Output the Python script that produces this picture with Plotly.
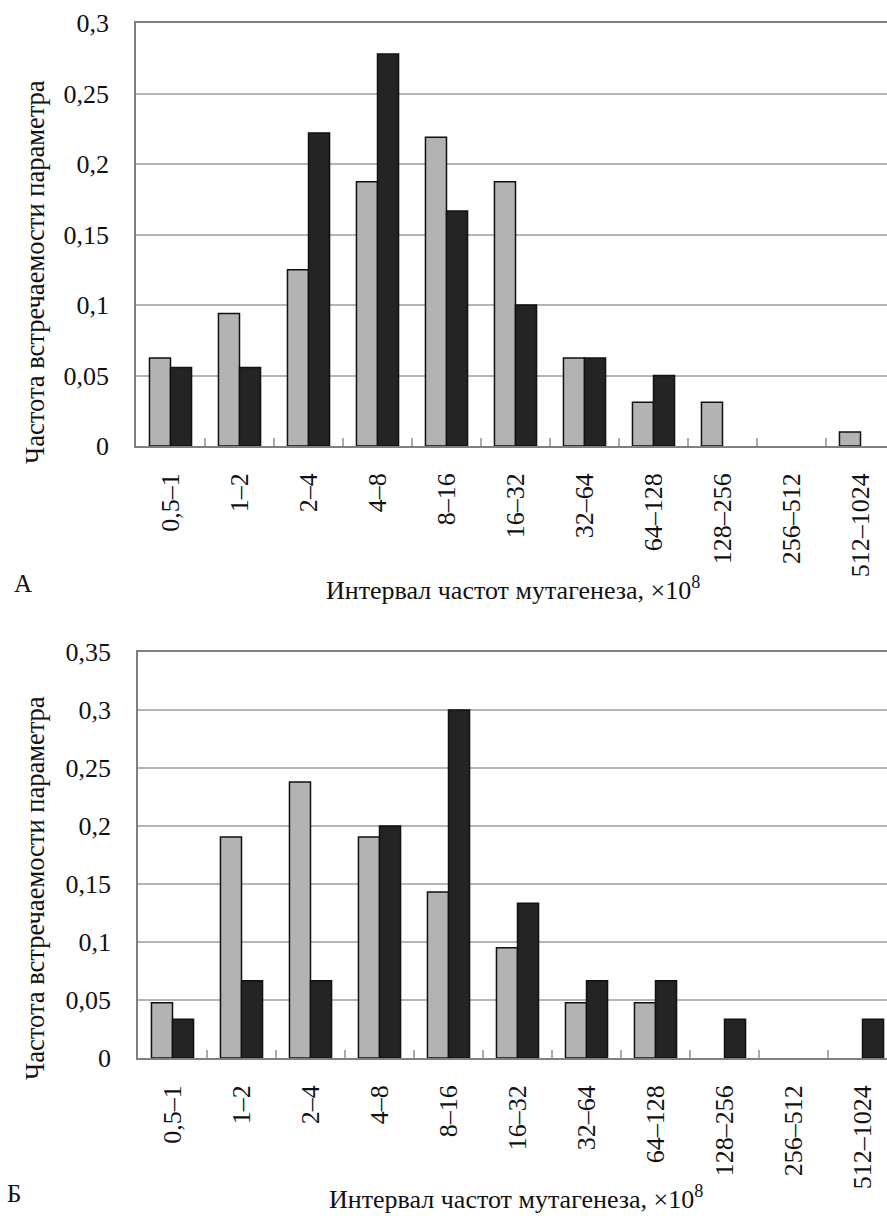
import plotly.graph_objects as go

# Mutagenesis frequency intervals (×10^8)
categories = ["0,5–1", "1–2", "2–4", "4–8", "8–16", "16–32",
              "32–64", "64–128", "128–256", "256–512", "512–1024"]

# Panel А: frequency of occurrence
a_gray = [0.0625, 0.094, 0.125, 0.1875, 0.219, 0.1875, 0.0625, 0.031, 0.031, 0.0, 0.01]
a_black = [0.0556, 0.0556, 0.222, 0.278, 0.1667, 0.1, 0.0625, 0.05, 0.0, 0.0, 0.0]

# Panel Б: frequency of occurrence
b_gray = [0.0476, 0.1905, 0.238, 0.1905, 0.143, 0.095, 0.0476, 0.0476, 0.0, 0.0, 0.0]
b_black = [0.0333, 0.0667, 0.0667, 0.2, 0.3, 0.1333, 0.0667, 0.0667, 0.0333, 0.0, 0.0333]

y_ticks_a = [0, 0.05, 0.1, 0.15, 0.2, 0.25, 0.3]
y_ticks_b = [0, 0.05, 0.1, 0.15, 0.2, 0.25, 0.3, 0.35]

W, H = 887, 1216
FONT = "'Liberation Serif', 'Times New Roman', serif"
GRAY = "#b3b3b3"
BLACK = "#242424"
GRID = "#b5b5b5"
AXIS = "#808080"


def py(v):
    """Convert a pixel row (from the top) to paper coordinates."""
    return 1 - v / H


def outline(values):
    # empty bins get no outline so nothing is drawn for them
    return [1.5 if v > 0 else 0 for v in values]


fig = go.Figure()

for gray, black, xa, ya in [(a_gray, a_black, "x", "y"), (b_gray, b_black, "x2", "y2")]:
    fig.add_trace(go.Bar(x=categories, y=gray, xaxis=xa, yaxis=ya,
                         marker=dict(color=GRAY, line=dict(color="#111", width=outline(gray))),
                         showlegend=False))
    fig.add_trace(go.Bar(x=categories, y=black, xaxis=xa, yaxis=ya,
                         marker=dict(color=BLACK, line=dict(color="#111", width=outline(black))),
                         showlegend=False))

xaxis_common = dict(
    type="category", tickangle=-90, tickson="boundaries", ticks="inside",
    ticklen=8, tickcolor="#aaaaaa", tickwidth=1.5, showgrid=False,
    showline=True, linecolor=AXIS, linewidth=1.5, mirror=True,
    tickfont=dict(family=FONT, size=26, color="#111"), ticklabelstandoff=15,
    fixedrange=True, automargin=False,
)
yaxis_common = dict(
    showgrid=True, gridcolor=GRID, gridwidth=1.5, zeroline=False,
    showline=True, linecolor=AXIS, linewidth=1.5, ticks="",
    tickfont=dict(family=FONT, size=26, color="#111"), ticklabelstandoff=20,
    fixedrange=True, automargin=False,
)

fig.update_layout(
    width=W, height=H,
    margin=dict(l=0, r=0, t=0, b=0, pad=0),
    paper_bgcolor="white", plot_bgcolor="white",
    separators=", ",
    barmode="group", bargap=0.39, bargroupgap=0,
    font=dict(family=FONT, color="#111"),
    xaxis=dict(xaxis_common, domain=[136 / W, 1], range=[-0.5, 10.384], anchor="y"),
    yaxis=dict(yaxis_common, domain=[py(446), py(23)], range=[0, 0.3],
               tickvals=y_ticks_a, anchor="x"),
    xaxis2=dict(xaxis_common, domain=[138 / W, 1], range=[-0.5, 10.355], anchor="y2"),
    yaxis2=dict(yaxis_common, domain=[py(1058), py(652)], range=[0, 0.35],
                tickvals=y_ticks_b, anchor="x2"),
)

xtitle = "Интервал частот мутагенеза, ×10<sup>8</sup>"
ytitle = "Частота встречаемости параметра"
annots = [
    dict(text=xtitle, x=513 / W, y=py(588), font_size=26),
    dict(text=xtitle, x=516 / W, y=py(1197), font_size=26),
    dict(text=ytitle, x=35 / W, y=py(272), font_size=26.5, textangle=-90),
    dict(text=ytitle, x=35 / W, y=py(888), font_size=26.5, textangle=-90),
    dict(text="А", x=23 / W, y=py(583), font_size=25),
    dict(text="Б", x=14 / W, y=py(1193), font_size=25),
]
for a in annots:
    fig.add_annotation(xref="paper", yref="paper", showarrow=False,
                       xanchor="center", yanchor="middle",
                       font=dict(family=FONT, color="#111", size=a.pop("font_size")), **a)

fig.write_html("out.html")
